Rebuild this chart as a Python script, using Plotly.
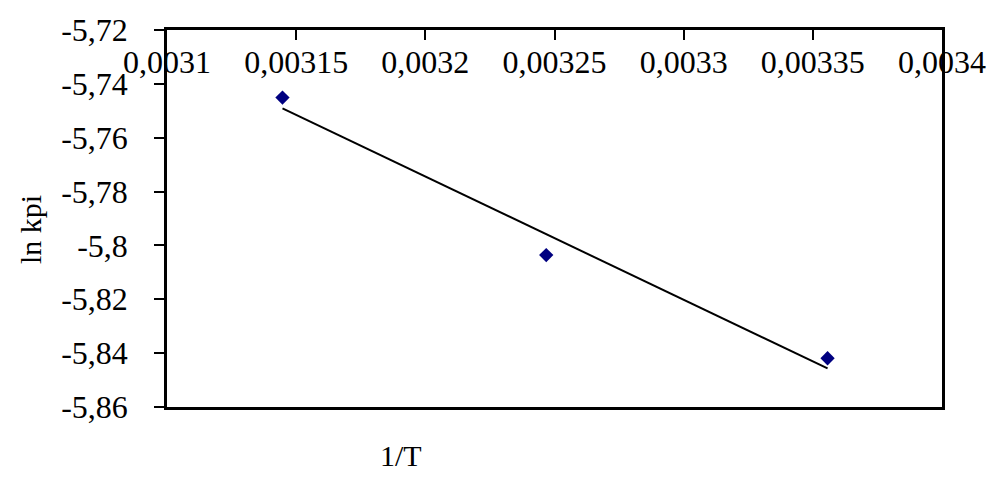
import numpy as np
import plotly.graph_objects as go

# Reciprocal temperature (1/T, K^-1) and ln kpi measurements
inv_T = [0.0031447, 0.0032468, 0.0033557]
ln_kpi = [-5.7451, -5.8036, -5.8419]

x_ticks = [0.0031, 0.00315, 0.0032, 0.00325, 0.0033, 0.00335, 0.0034]
x_tick_labels = ["0,0031", "0,00315", "0,0032", "0,00325", "0,0033", "0,00335", "0,0034"]
y_ticks = [-5.86, -5.84, -5.82, -5.80, -5.78, -5.76, -5.74, -5.72]
y_tick_labels = ["-5,86", "-5,84", "-5,82", "-5,8", "-5,78", "-5,76", "-5,74", "-5,72"]

# Least-squares linear trendline across the measured range
slope, intercept = np.polyfit(inv_T, ln_kpi, 1)
trend_x = [min(inv_T), max(inv_T)]
trend_y = [slope * v + intercept for v in trend_x]

FONT = "Liberation Serif"
TICK_SIZE = 32

fig = go.Figure()
fig.add_trace(go.Scatter(
    x=inv_T, y=ln_kpi, mode="markers",
    marker=dict(symbol="diamond", size=11, color="#000080", line=dict(width=0)),
    showlegend=False, hoverinfo="skip",
))
fig.add_trace(go.Scatter(
    x=trend_x, y=trend_y, mode="lines",
    line=dict(color="black", width=2),
    showlegend=False, hoverinfo="skip",
))

fig.update_layout(
    width=1001, height=478,
    margin=dict(l=167, r=59, t=17, b=71),
    paper_bgcolor="white", plot_bgcolor="white",
    font=dict(family=FONT, size=TICK_SIZE, color="black"),
    xaxis=dict(
        range=[0.0031, 0.0034], side="top",
        tickvals=x_ticks, ticktext=x_tick_labels,
        ticks="inside", ticklen=10, tickwidth=1.5, tickcolor="black",
        ticklabelposition="inside", ticklabelstandoff=14,
        ticklabeloverflow="allow",
        showline=True, linecolor="black", linewidth=2.5, mirror=True,
        showgrid=False, zeroline=False,
        tickfont=dict(family=FONT, size=TICK_SIZE, color="black"),
    ),
    yaxis=dict(
        range=[-5.86, -5.72],
        tickvals=y_ticks, ticktext=y_tick_labels,
        ticks="outside", ticklen=10, tickwidth=1.5, tickcolor="black",
        ticklabelstandoff=20, ticklabeloverflow="allow",
        showline=True, linecolor="black", linewidth=2.5, mirror=True,
        showgrid=False, zeroline=False,
        tickfont=dict(family=FONT, size=TICK_SIZE, color="black"),
    ),
    annotations=[
        dict(text="1/T", xref="paper", yref="paper", x=(401 - 167) / 775, y=-(457 - 407) / 390,
             xanchor="center", yanchor="middle", showarrow=False,
             font=dict(family=FONT, size=30, color="black")),
        dict(text="ln kpi", xref="paper", yref="paper", x=-(167 - 30) / 775, y=(407 - 224) / 390,
             xanchor="center", yanchor="middle", textangle=-90, showarrow=False,
             font=dict(family=FONT, size=30, color="black")),
    ],
)

fig.write_html("out.html")
